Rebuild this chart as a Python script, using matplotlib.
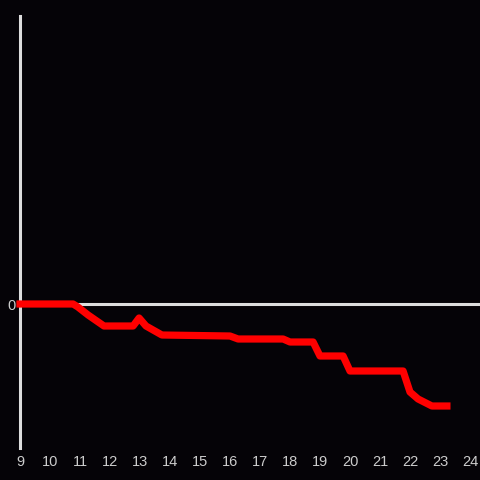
import matplotlib
matplotlib.use("Agg")
import matplotlib.pyplot as plt

# data (y in arbitrary units, 0 = baseline)
hours = [9.0, 10.77, 10.93, 11.27, 11.8, 12.77, 12.97, 13.2, 13.73, 16.0, 16.27,
         17.77, 18.0, 18.77, 19.0, 19.77, 20.0, 21.77, 22.0, 22.27, 22.73, 23.23]
values = [0, 0, -0.3, -1.1, -2.2, -2.2, -1.4, -2.2, -3.1, -3.2, -3.5,
          -3.5, -3.8, -3.8, -5.2, -5.2, -6.7, -6.7, -8.8, -9.5, -10.2, -10.2]
xticks = list(range(9, 25))

bg = '#050307'
grey = '#dddddd'

plt.rcParams['font.family'] = ['Liberation Sans', 'DejaVu Sans']

fig = plt.figure(figsize=(4.8, 4.8), dpi=100, facecolor=bg)
ax = fig.add_axes([20 / 480, 32 / 480, 460 / 480, 432 / 480])
ax.set_facecolor(bg)

ax.axhline(0, color=grey, lw=2.2, zorder=1)
ax.plot(hours, values, color='#ff0000', lw=5.2, solid_capstyle='projecting',
        solid_joinstyle='round', clip_on=False, zorder=3)

ax.set_xlim(9, 9 + 460 / 30)
ax.set_ylim(-14.4, 28.8)
ax.set_xticks(xticks)
ax.set_yticks([0])
ax.tick_params(axis='both', length=0, colors='#cccccc', labelsize=10.5)
ax.tick_params(axis='x', pad=5)
ax.tick_params(axis='y', pad=3)

for s in ['top', 'right', 'bottom']:
    ax.spines[s].set_visible(False)
ax.spines['left'].set_color(grey)
ax.spines['left'].set_linewidth(2.2)

fig.savefig('out.png', dpi=100, facecolor=bg)
